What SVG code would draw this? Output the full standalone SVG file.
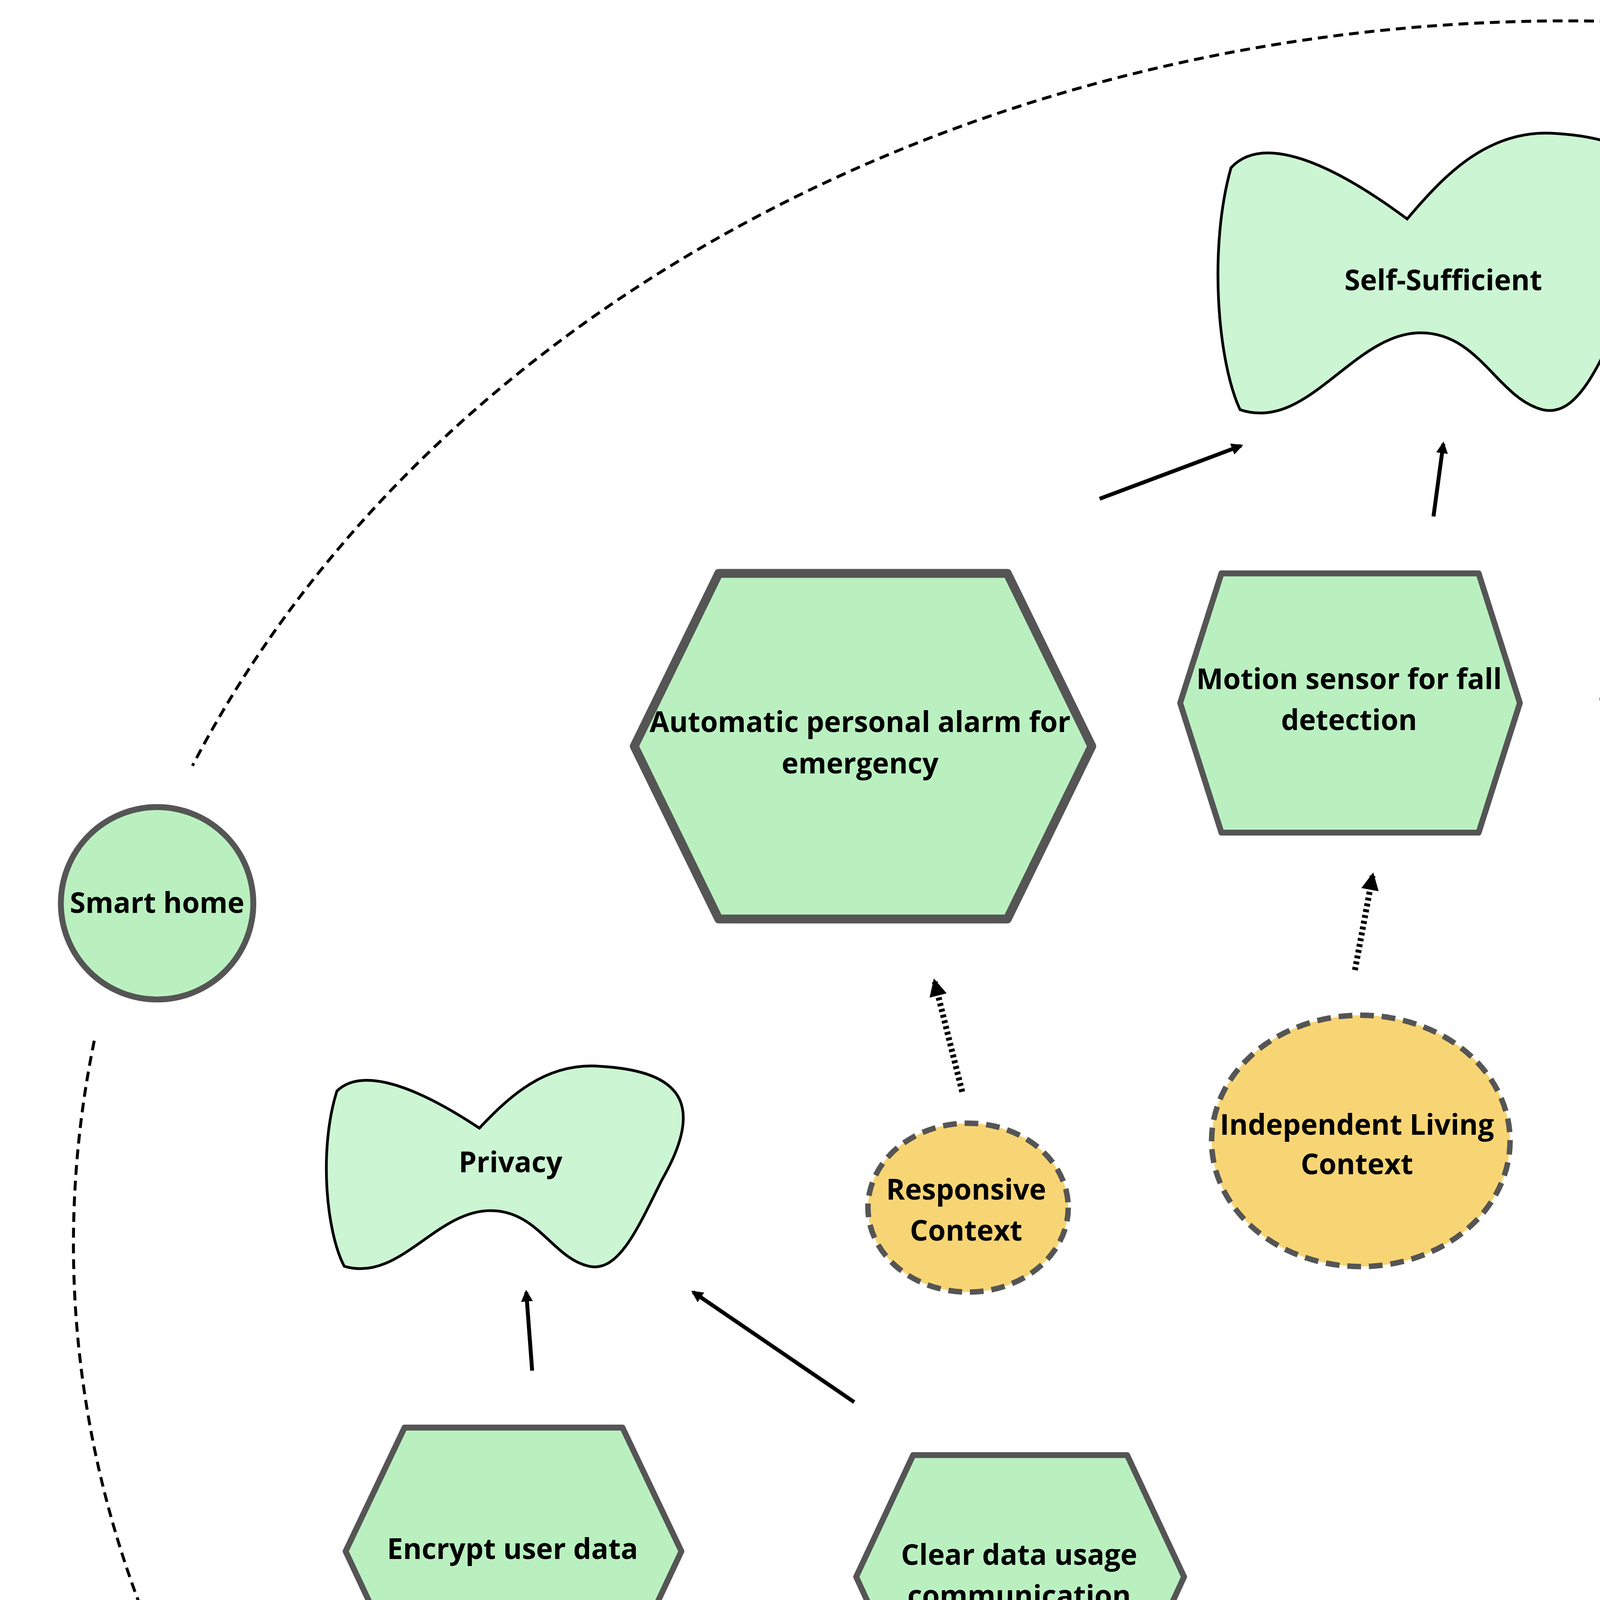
<svg xmlns="http://www.w3.org/2000/svg" xmlns:xlink="http://www.w3.org/1999/xlink" width="7882" height="6327" viewBox="0 0 7882 6327">
<style>
text{font-family:"Open Sans","Noto Sans","DejaVu Sans",sans-serif;font-weight:bold;font-size:14.5px;fill:#000;text-anchor:middle;dominant-baseline:middle}
.cl{fill:#ccf5d3;stroke:#000;stroke-width:7;vector-effect:non-scaling-stroke}
.hx{fill:#baf0c0;stroke:#555;stroke-width:3;stroke-linejoin:round}
.hb{fill:#baf0c0;stroke:#555;stroke-width:4.5;stroke-linejoin:round}
.ctx{fill:#f8d574;stroke:#555;stroke-width:2.8;stroke-dasharray:7 4}
.sl{stroke:#000;stroke-width:2;fill:none;marker-end:url(#ah)}
.dl{stroke:#000;stroke-width:3;stroke-dasharray:1.5 1.5;fill:none;marker-end:url(#ah)}
</style>
<defs>
<marker id="ah" viewBox="0 0 10 10" refX="8" refY="5" markerWidth="3" markerHeight="3" markerUnits="strokeWidth" orient="auto"><path d="M0 0L10 5L0 10Z" fill="#000"/></marker>
<path id="cloud" class="cl" d="M0.03 0.12C0.1 0 0.25 0.1 0.42 0.3C0.5 0.15 0.6 -0.02 0.75 0C0.95 0.02 1.05 0.15 0.92 0.55C0.85 0.8 0.8 1 0.72 0.97C0.62 0.93 0.58 0.7 0.45 0.7C0.3 0.7 0.2 1.05 0.05 0.97C0 0.8 -0.02 0.4 0.03 0.12Z"/>
</defs>
<rect width="7882" height="6327" fill="#fff"/>
<g transform="scale(5.027)">
<path d="M48 530A761 623 0 1 0 98 390" fill="none" stroke="#000" stroke-width="1.5" stroke-dasharray="5 3"/>
<g id="connectors">
<line class="sl" x1="560" y1="254" x2="632" y2="227"/>
<line class="sl" x1="730" y1="263" x2="735" y2="226"/>
<line class="sl" x1="865" y1="267" x2="833" y2="227"/>
<line class="sl" x1="1090" y1="461" x2="1104" y2="401"/>
<line class="sl" x1="1348" y1="501" x2="1233" y2="401"/>
<line class="sl" x1="271" y1="698" x2="268" y2="658"/>
<line class="sl" x1="435" y1="714" x2="353" y2="658"/>
<line class="dl" x1="490" y1="556" x2="476" y2="500"/>
<line class="dl" x1="690" y1="494" x2="699" y2="446"/>
<line class="dl" x1="908" y1="510" x2="908" y2="437"/>
<line class="dl" x1="1094" y1="694" x2="1086" y2="609"/>
<line class="dl" x1="1359" y1="817" x2="1359" y2="776"/>
<line class="dl" x1="289" y1="911" x2="288" y2="876"/>
<line class="dl" x1="541" y1="967" x2="540" y2="887"/>
</g>
<g id="smart-home"><circle cx="80" cy="460" r="49" fill="#baf0c0" stroke="#555" stroke-width="3"/><text x="80" y="461">Smart home</text></g>
<g id="self-sufficient"><use xlink:href="#cloud" transform="translate(620 68) scale(230 145)"/><text x="735" y="144">Self-Sufficient</text></g>
<g id="user-power"><use xlink:href="#cloud" transform="translate(1012 247) scale(223 141)"/><text x="1125" y="322">User Power</text></g>
<g id="privacy"><use xlink:href="#cloud" transform="translate(166 543) scale(186 105)"/><text x="260" y="593">Privacy</text></g>
<g id="alarm"><polygon class="hb" points="323,380 366,292 513,292 556,380 513,468 366,468"/><text x="438" y="369">Automatic personal alarm for</text><text x="438" y="390">emergency</text></g>
<g id="motion"><polygon class="hx" points="601,358 622,292 753,292 774,358 753,424 622,424"/><text x="687" y="347">Motion sensor for fall</text><text x="687" y="368">detection</text></g>
<g id="easy"><polygon class="hx" points="816,356 839,294 955,294 978,356 955,418 839,418"/><text x="896" y="345">Easy option for self</text><text x="896" y="366">assesment and help</text></g>
<g id="flex"><polygon class="hx" points="1002,537 1025,484 1122,484 1145,537 1122,591 1025,591"/><text x="1073" y="538">Provide flexibility</text></g>
<g id="allow"><polygon class="hb" points="1228,642 1280,543 1440,543 1492,642 1440,742 1280,742"/><text x="1360" y="641">Allow user approved option only</text></g>
<g id="encrypt"><polygon class="hx" points="176,790 206,727 317,727 347,790 317,854 206,854"/><text x="261" y="790">Encrypt user data</text></g>
<g id="clear"><polygon class="hx" points="436,803 465,741 574,741 603,803 574,866 465,866"/><text x="519" y="793">Clear data usage</text><text x="519" y="814">communication</text></g>
<g id="ctx-responsive"><ellipse class="ctx" cx="493" cy="615" rx="51" ry="43"/><text x="492" y="607">Responsive</text><text x="492" y="628">Context</text></g>
<g id="ctx-il1"><ellipse class="ctx" cx="693" cy="581" rx="76" ry="64"/><text x="691" y="574">Independent Living</text><text x="691" y="594">Context</text></g>
<g id="ctx-il2"><ellipse class="ctx" cx="902" cy="596" rx="76" ry="64"/><text x="900" y="589">Independent Living</text><text x="900" y="610">Context</text></g>
<g id="ctx-il3"><ellipse class="ctx" cx="1101" cy="782" rx="76" ry="65"/><text x="1099" y="774">Independent Living</text><text x="1099" y="795">Context</text></g>
<g id="ctx-c1"><ellipse class="ctx" cx="1351" cy="890" rx="64" ry="54"/><text x="1351" y="893">Control Context</text></g>
<g id="ctx-c2"><ellipse class="ctx" cx="305" cy="977" rx="57" ry="48"/><text x="305" y="979">Control Context</text></g>
<g id="ctx-c3"><ellipse class="ctx" cx="556" cy="1052" rx="73" ry="63"/><text x="556" y="1054">Control Context</text></g>
</g>
</svg>
